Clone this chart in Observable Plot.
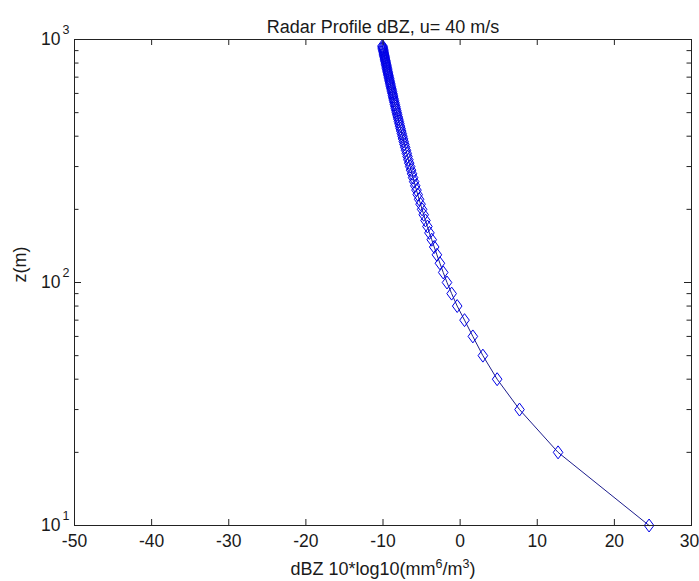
<!DOCTYPE html>
<html>
<head>
<meta charset="utf-8">
<script src="https://cdn.jsdelivr.net/npm/d3@7"></script>
<script src="https://cdn.jsdelivr.net/npm/@observablehq/plot@0.6"></script>
<style>
html, body { margin: 0; padding: 0; background: #fff; }
</style>
</head>
<body>
<div id="chart"></div>
<script>
// ---- chart text ----
const title = "Radar Profile dBZ, u= 40 m/s";
const yLabel = "z(m)";
// x label pieces: [text, isSuperscript]
const xLabelParts = [["dBZ 10*log10(mm", false], ["6", true], ["/m", false], ["3", true], [")", false]];

// ---- ticks ----
const xTicks = [-50, -40, -30, -20, -10, 0, 10, 20, 30];
const yMajor = [10, 100, 1000];
const yExponents = ["1", "2", "3"];
const yMinor = [20, 30, 40, 50, 60, 70, 80, 90, 200, 300, 400, 500, 600, 700, 800, 900];

// ---- data: height z (m) and reflectivity (dBZ) ----
const heights = [
  10, 20, 30, 40, 50, 60, 70, 80, 90, 100,
  110, 120, 130, 140, 150, 160, 170, 180, 190, 200,
  210, 220, 230, 240, 250, 260, 270, 280, 290, 300,
  310, 320, 330, 340, 350, 360, 370, 380, 390, 400,
  410, 420, 430, 440, 450, 460, 470, 480, 490, 500,
  510, 520, 530, 540, 550, 560, 570, 580, 590, 600,
  610, 620, 630, 640, 650, 660, 670, 680, 690, 700,
  710, 720, 730, 740, 750, 760, 770, 780, 790, 800,
  810, 820, 830, 840, 850, 860, 870, 880, 890, 900,
  910, 920, 930, 940
];
const dbz = [
  24.5, 12.7, 7.7, 4.8, 2.95, 1.65, 0.57, -0.38, -1.1, -1.7,
  -2.19, -2.62, -3.01, -3.36, -3.68, -3.98, -4.24, -4.49, -4.72, -4.93,
  -5.13, -5.32, -5.50, -5.66, -5.82, -5.96, -6.10, -6.23, -6.36, -6.48,
  -6.60, -6.71, -6.82, -6.92, -7.02, -7.12, -7.22, -7.31, -7.40, -7.48,
  -7.56, -7.64, -7.72, -7.80, -7.87, -7.94, -8.01, -8.08, -8.15, -8.21,
  -8.28, -8.34, -8.40, -8.46, -8.51, -8.57, -8.63, -8.68, -8.73, -8.78,
  -8.83, -8.88, -8.93, -8.98, -9.03, -9.07, -9.12, -9.16, -9.20, -9.25,
  -9.29, -9.33, -9.37, -9.41, -9.45, -9.49, -9.52, -9.56, -9.60, -9.63,
  -9.67, -9.70, -9.74, -9.77, -9.80, -9.84, -9.87, -9.90, -9.93, -9.96,
  -9.99, -10.02, -10.04, -10.07
];

const data = heights.map((z, i) => ({z, dbz: dbz[i]}));

// MATLAB-like diamond marker (taller than wide)
const diamond = {
  draw(ctx, size) {
    const r = Math.sqrt(size / Math.PI);
    const h = r * 1.35;
    ctx.moveTo(0, -h);
    ctx.lineTo(r, 0);
    ctx.lineTo(0, h);
    ctx.lineTo(-r, 0);
    ctx.closePath();
  }
};

const FONT = "'Liberation Sans', Arial, Helvetica, sans-serif";
const axisColor = "#222";
const lineColor = "#1c1c8c";
const markerColor = "#0000e6";

const W = 699, H = 581, mL = 74, mR = 8, mT = 39, mB = 56;
const plotW = W - mL - mR, plotH = H - mT - mB;
const xLabelText = xLabelParts.map(p => p[0]).join("");
const lastTick = xTicks[xTicks.length - 1];

const svg = Plot.plot({
  width: W,
  height: H,
  marginLeft: mL,
  marginRight: mR,
  marginTop: mT,
  marginBottom: mB,
  style: {fontFamily: FONT, fontSize: "17px", color: "#1a1a1a", background: "#fff"},
  x: {domain: [-50, 30], axis: null},
  y: {type: "log", domain: [10, 1000], axis: null},
  marks: [
    Plot.line(data, {x: "dbz", y: "z", stroke: lineColor, strokeWidth: 1}),
    Plot.dot(data, {x: "dbz", y: "z", symbol: diamond, r: 4.8, stroke: markerColor, strokeWidth: 1, fill: "none"}),
    // inward ticks on all four sides
    Plot.tickX(xTicks, {x: d => d, insetTop: plotH - 6, stroke: axisColor}),
    Plot.tickX(xTicks, {x: d => d, insetBottom: plotH - 6, stroke: axisColor}),
    Plot.tickY(yMajor, {y: d => d, insetRight: plotW - 7, stroke: axisColor}),
    Plot.tickY(yMajor, {y: d => d, insetLeft: plotW - 7, stroke: axisColor}),
    Plot.tickY(yMinor, {y: d => d, insetRight: plotW - 4.5, stroke: axisColor}),
    Plot.tickY(yMinor, {y: d => d, insetLeft: plotW - 4.5, stroke: axisColor}),
    Plot.frame({stroke: axisColor}),
    // x tick labels (last one nudged so it stays inside the picture)
    Plot.text(xTicks.filter(d => d !== lastTick), {x: d => d, frameAnchor: "bottom", lineAnchor: "top", dy: 9, text: d => String(d), fontSize: 17.5}),
    Plot.text([lastTick], {x: d => d, frameAnchor: "bottom", lineAnchor: "top", dy: 9, dx: -2, text: d => String(d), fontSize: 17.5}),
    // y tick labels 10^n
    Plot.text(yMajor, {y: d => d, frameAnchor: "left", text: () => "10", textAnchor: "end", dx: -14, fontSize: 17.5}),
    Plot.text(yMajor, {y: d => d, frameAnchor: "left", text: (d, i) => yExponents[i], textAnchor: "start", dx: -12, dy: -10, fontSize: 12.5}),
    // y label
    Plot.text([yLabel], {text: d => d, frameAnchor: "left", rotate: -90, dx: -54, fontSize: 18}),
    // title
    Plot.text([title], {text: d => d, frameAnchor: "top", lineAnchor: "bottom", dy: -7, fontSize: 18}),
    // x label
    Plot.text([xLabelText], {text: d => d, frameAnchor: "bottom", lineAnchor: "bottom", dy: 49, fontSize: 18})
  ]
});

// rebuild x label with superscripts
d3.select(svg).selectAll("text").each(function() {
  if (this.textContent === xLabelText) {
    const xl = d3.select(this);
    xl.text(null);
    xLabelParts.forEach(([t, sup], i) => {
      const ts = xl.append("tspan").text(t);
      if (sup) ts.attr("font-size", 12.5).attr("dy", -7);
      else if (i > 0) ts.attr("dy", 7);
    });
  }
});

document.getElementById("chart").appendChild(svg);
</script>
</body>
</html>
